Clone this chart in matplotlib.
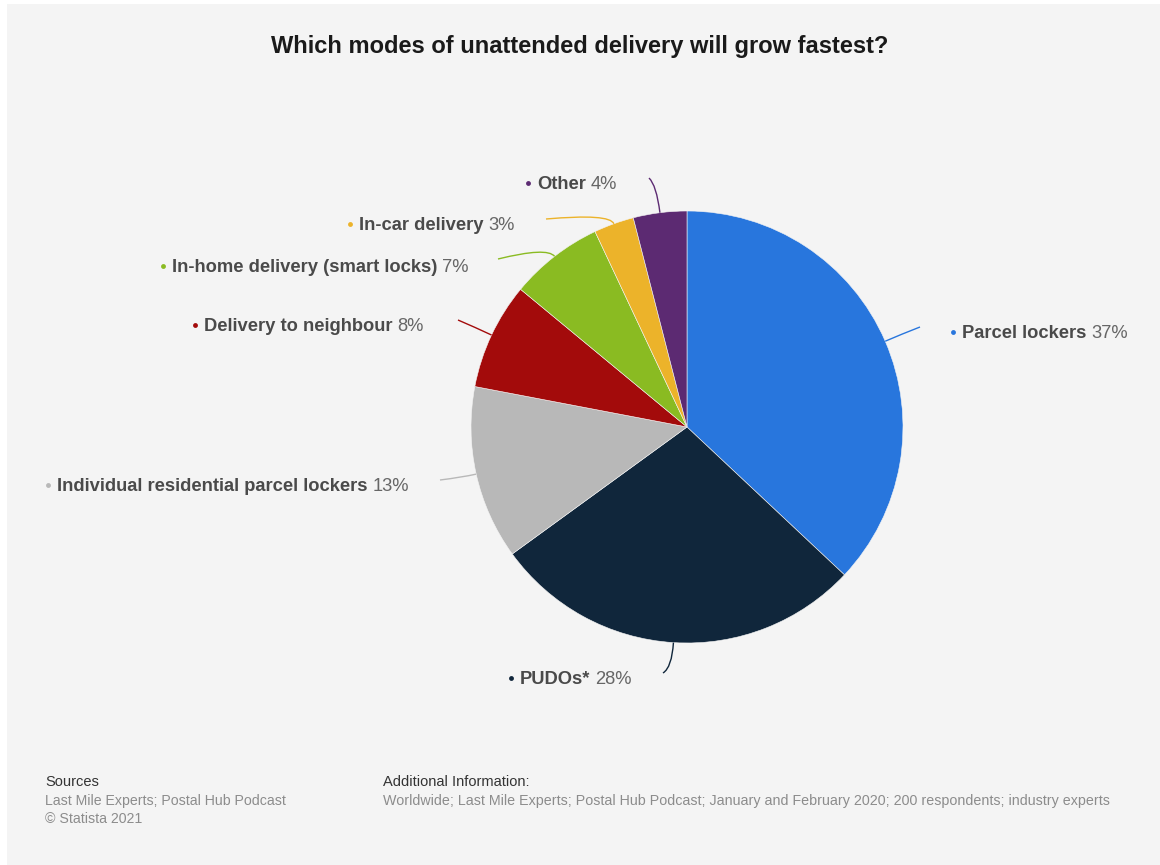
import numpy as np
import matplotlib
matplotlib.use('Agg')
from matplotlib import pyplot as plt
from matplotlib.patches import Rectangle, PathPatch
from matplotlib.path import Path

plt.rcParams['font.family'] = ['Liberation Sans', 'DejaVu Sans']

labels = ['Parcel lockers', 'PUDOs*', 'Individual residential parcel lockers',
          'Delivery to neighbour', 'In-home delivery (smart locks)',
          'In-car delivery', 'Other']
shares = [37, 28, 13, 8, 7, 3, 4]
colors = ['#2876dd', '#10263b', '#b8b8b8', '#a30b0b', '#8abb22', '#ecb32a', '#5c2a72']

# label layout in pixels: dot position, end of connector, how far the connector runs out
label_pos = [(953, 332), (511, 678), (48, 485), (195, 325), (163, 266), (350, 224), (528, 183)]
conn_end = [(920, 327), (663, 673), (440, 480), (458, 320), (498, 259), (546, 219), (649, 178)]
conn_out = [18, 25, 15, 18, 12, 11, 28]

fig = plt.figure(figsize=(11.6, 8.65), dpi=100, facecolor='white')
fig.patches.append(Rectangle((7 / 1160, 0), 1, 1 - 4 / 865, transform=fig.transFigure,
                             facecolor='#f4f4f4', edgecolor='none', zorder=-5))
ax = fig.add_axes([0, 0, 1, 1])

cx, cy, r = 687, 427, 216
wedges, _ = ax.pie(shares, colors=colors, center=(cx, cy), radius=r,
                   startangle=-90, counterclock=True,
                   wedgeprops=dict(edgecolor='#f4f4f4', linewidth=0.4))
ax.set_xlim(0, 1160)
ax.set_ylim(865, 0)
ax.axis('off')

for w, lab, val, c, (lx, ly), end, out in zip(wedges, labels, shares, colors,
                                              label_pos, conn_end, conn_out):
    a = np.deg2rad((w.theta1 + w.theta2) / 2)
    d = np.array([np.cos(a), np.sin(a)])
    edge = np.array([cx, cy]) + r * d
    corner = edge + out * d
    path = Path([edge, corner, end], [Path.MOVETO, Path.CURVE3, Path.CURVE3])
    ax.add_patch(PathPatch(path, facecolor='none', edgecolor=c, lw=1.0))

    ax.plot(lx, ly, 'o', ms=3.5, color=c, mec='none')
    name = ax.text(lx + 9, ly + 6, lab, fontsize=13.2, fontweight='bold',
                   color='#4a4a4a', va='baseline', ha='left')
    ax.annotate(f'{val}%', xy=(1, ly + 6), xycoords=(name, 'data'),
                xytext=(3.5, 0), textcoords='offset points',
                fontsize=13.2, color='#666666', va='baseline', ha='left')

fig.text(0.5, 1 - 46 / 865, 'Which modes of unattended delivery will grow fastest?',
         ha='center', va='center', fontsize=17, fontweight='bold', color='#1a1a1a')

# footer
ax.text(45, 782, 'Sources', fontsize=10.5, color='#333333', va='center')
ax.text(45, 801, 'Last Mile Experts; Postal Hub Podcast', fontsize=10.2, color='#8c8c8c', va='center')
ax.text(45, 819, '\u00a9 Statista 2021', fontsize=10.2, color='#8c8c8c', va='center')
ax.text(383, 782, 'Additional Information:', fontsize=10.5, color='#333333', va='center')
ax.text(383, 801, 'Worldwide; Last Mile Experts; Postal Hub Podcast; January and February 2020; '
        '200 respondents; industry experts', fontsize=10.3, color='#8c8c8c', va='center')

fig.savefig('out.png', dpi=100, facecolor=fig.get_facecolor())
